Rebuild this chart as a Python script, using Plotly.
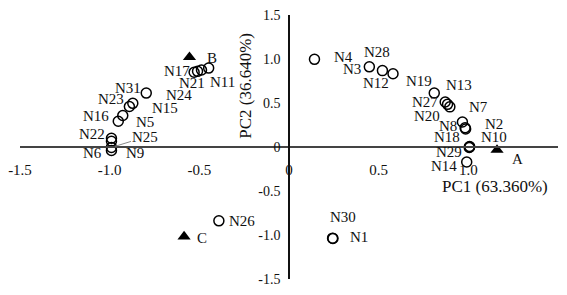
import plotly.graph_objects as go

# Sample scores (PC1, PC2)
names = ["N17", "N21", "N11", "N24", "N31", "N23", "N15", "N5", "N16", "N22", "N9", "N25", "N6",
         "N4", "N3", "N28", "N12", "N19", "N13", "N27", "N20", "N7", "N8", "N18", "N2", "N10", "N29",
         "N14", "N26", "N30", "N1"]
pc1 = [-0.529, -0.488, -0.448, -0.51, -0.796, -0.871, -0.890, -0.927, -0.952, -0.99, -0.99, -0.99, -0.99,
       0.142, 0.448, 0.521, 0.580, 0.810, 0.871, 0.884, 0.897, 0.967, 0.982, 0.985, 1.007, 1.007, 1.005,
       0.991, -0.391, 0.243, 0.245]
pc2 = [0.850, 0.875, 0.897, 0.86, 0.613, 0.496, 0.460, 0.358, 0.292, 0.10, 0.065, -0.005, -0.04,
       0.996, 0.911, 0.868, 0.832, 0.613, 0.511, 0.485, 0.456, 0.284, 0.219, 0.205, 0.005, 0.0, -0.005,
       -0.170, -0.839, -1.036, -1.04]

# Reference points
ref_names = ["A", "B", "C"]
ref_pc1 = [1.160, -0.555, -0.585]
ref_pc2 = [-0.033, 1.02, -1.018]

tick_vals = [-1.5, -1.0, -0.5, 0, 0.5, 1.0, 1.5]
tick_text = ["-1.5", "-1.0", "-0.5", "0", "0.5", "1.0", "1.5"]

# label pixel offsets (dx right, dy up) – layout only
label_off = {
    "N17": (-17, 1), "N21": (-9, -13), "N11": (14, -13.5), "N24": (-19, -24),
    "N31": (-18, 5), "N23": (-22, 4), "N15": (36, -1), "N5": (22, -6), "N16": (-22, 5),
    "N22": (-19, 4), "N9": (24, -12), "N6": (-19, -2),
    "N4": (29, 2.5), "N3": (-17.5, -2), "N28": (-5, 19), "N12": (-17.5, -9.5),
    "N19": (-15, 12.5), "N13": (14, 17.5), "N27": (-23, 2), "N20": (-23, -9),
    "N7": (16, 15), "N8": (-17, 2), "N18": (-19, -8), "N2": (24, 23), "N10": (24, 10),
    "N29": (-20, -5), "N14": (-23, -4), "N26": (23, 0), "N30": (10, 21.5), "N1": (26, 2),
    "A": (20, -9), "B": (23, -0.5), "C": (17.5, -1),
}

font_serif = "Liberation Serif"

fig = go.Figure()
fig.add_trace(go.Scatter(
    x=pc1, y=pc2, mode="markers",
    marker=dict(symbol="circle-open", size=10, color="black", line=dict(width=1.5)),
    hoverinfo="skip", showlegend=False))
fig.add_trace(go.Scatter(
    x=ref_pc1, y=ref_pc2, mode="markers",
    marker=dict(symbol="triangle-up", size=11.5, color="black"),
    hoverinfo="skip", showlegend=False))

annotations = []
all_names = names + ref_names
all_x = pc1 + ref_pc1
all_y = pc2 + ref_pc2
for n, x, y in zip(all_names, all_x, all_y):
    if n == "N25":
        annotations.append(dict(x=x, y=y, text=n, showarrow=True, arrowhead=0,
                                arrowwidth=1, arrowcolor="#888", ax=34, ay=-10.5,
                                standoff=4, font=dict(family=font_serif, size=15, color="#111")))
        continue
    dx, dy = label_off[n]
    annotations.append(dict(x=x, y=y, text=n, showarrow=False, xshift=dx, yshift=dy,
                            xanchor="center", yanchor="middle",
                            font=dict(family=font_serif, size=15, color="#111")))

annotations.append(dict(x=1.149, y=-0.449, text="PC1 (63.360%)", showarrow=False,
                        xanchor="center", yanchor="middle",
                        font=dict(family=font_serif, size=17, color="#111")))
annotations.append(dict(x=-0.243, y=0.70, text="PC2 (36.640%)", showarrow=False, textangle=-90,
                        xanchor="center", yanchor="middle",
                        font=dict(family=font_serif, size=17, color="#111")))

fig.update_layout(
    width=567, height=295,
    margin=dict(l=14, r=9, t=8, b=11),
    paper_bgcolor="white", plot_bgcolor="white",
    font=dict(family=font_serif, color="#111"),
    annotations=annotations,
    xaxis=dict(range=[-1.5, 1.5], tickvals=tick_vals, ticktext=tick_text,
               showgrid=False, zeroline=False, showline=True, linecolor="#444", linewidth=1.6,
               anchor="free", position=0.5, ticks="", ticklabelstandoff=9,
               tickfont=dict(family=font_serif, size=15, color="#111")),
    yaxis=dict(range=[-1.5, 1.5], tickvals=tick_vals, ticktext=tick_text,
               showgrid=False, zeroline=False, showline=True, linecolor="#111", linewidth=1.6,
               anchor="free", position=0.5, ticks="", ticklabelstandoff=5,
               tickfont=dict(family=font_serif, size=14, color="#111")),
)

fig.write_html("out.html")
